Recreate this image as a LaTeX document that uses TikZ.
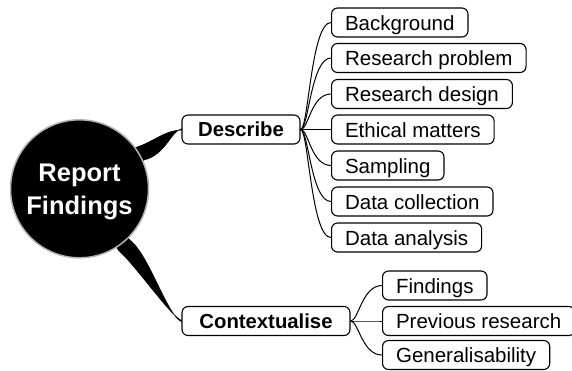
\documentclass[tikz,border=0pt]{standalone}
\usepackage{fontspec}
\setmainfont{Liberation Sans}
\begin{document}
\begin{tikzpicture}[x=1pt,y=-1pt,
  rootnode/.style={circle, fill=black, draw=gray!60, line width=1.5pt, minimum size=138pt, inner sep=0pt,
    text=white, font=\bfseries\fontsize{25.5}{33}\selectfont, align=center, text depth=-7pt},
  topic/.style={draw, rounded corners=6pt, line width=1.1pt, inner xsep=0pt, inner ysep=0pt,
    minimum height=29pt, text height=14.5pt, text depth=0pt, font=\bfseries\fontsize{20.3}{24}\selectfont},
  leaf/.style={draw, rounded corners=6pt, line width=1.1pt, inner xsep=13.5pt, inner ysep=0pt,
    minimum height=29pt, text height=15pt, text depth=0pt, anchor=west, font=\fontsize{20.5}{24}\selectfont},
  branch/.style={fill=black, draw=black, line width=0.6pt, line join=round},
  twig/.style={draw=black, line width=1pt},
]
\useasboundingbox (0,0) rectangle (572,370);

% level-1 topics
\node[topic, minimum width=118pt] (D) at (241,129.5) {Describe};
\node[topic, minimum width=168pt] (C) at (266,321) {Contextualise};

% leaves of Describe
\node[leaf] (d1) at (331,22.5) {Background};
\node[leaf] (d2) at (331,58) {Research problem};
\node[leaf] (d3) at (331,94) {Research design};
\node[leaf] (d4) at (331,129.5) {Ethical matters};
\node[leaf] (d5) at (331,165.5) {Sampling};
\node[leaf] (d6) at (331,201.5) {Data collection};
\node[leaf] (d7) at (331,237.5) {Data analysis};

% leaves of Contextualise
\node[leaf] (c1) at (382,285.5) {Findings};
\node[leaf] (c2) at (382,321) {Previous research};
\node[leaf] (c3) at (382,355) {Generalisability};

% thin connectors
\foreach \n in {d1,d2,d3,d4,d5,d6,d7}
  \draw[twig] (D.east) .. controls +(8,0) and +(-20,0) .. (\n.west);
\foreach \n in {c1,c2,c3}
  \draw[twig] (C.east) .. controls +(8,0) and +(-20,0) .. (\n.west);

% root and tapered branches
\coordinate (rc) at (79.5,188.8);
\path (rc) ++(55.5,-41.1) coordinate (u1);
\path (rc) ++(65,-29) coordinate (u2);
\path (rc) ++(52.2,52.9) coordinate (l1);
\path (rc) ++(38.8,61.2) coordinate (l2);
\path[branch] (u1) .. controls +(17,-4.7) and +(-17,0) .. ([yshift=-0.6pt]D.west)
  -- ([yshift=0.6pt]D.west) .. controls +(-10,1.5) and +(21,-5) .. (u2) -- (rc) -- cycle;
\path[branch] (l1) .. controls +(18.3,16.3) and +(-14,-6) .. ([yshift=-0.6pt]C.west)
  -- ([yshift=0.6pt]C.west) .. controls +(-10,-3.5) and +(17.7,16) .. (l2) -- (rc) -- cycle;
\node[rootnode] (root) at (rc) {Report\\Findings};
\end{tikzpicture}
\end{document}
